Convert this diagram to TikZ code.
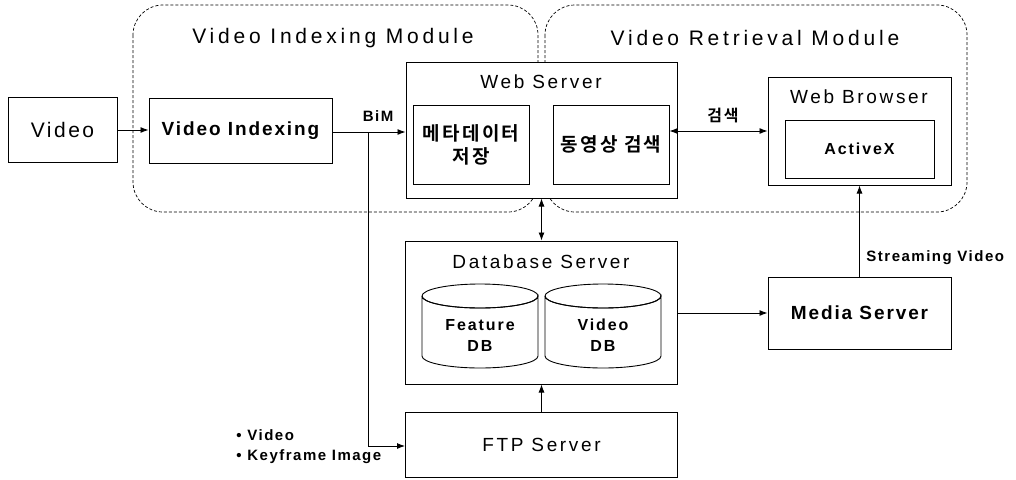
\documentclass[tikz,border=0pt]{standalone}
\usepackage{fontspec}
\setmainfont{Liberation Sans}
\newfontfamily\krfont{Noto Sans CJK KR}[BoldFont={* Bold}]
\usetikzlibrary{arrows.meta}

% font helpers (sizes in pt, picture unit is 1pt)
\newcommand{\ttl}{\fontsize{21}{25}\selectfont\addfontfeature{LetterSpace=18}}
\newcommand{\bxf}{\fontsize{19}{23}\selectfont\addfontfeature{LetterSpace=14}}
\newcommand{\bxv}{\fontsize{21}{25}\selectfont\addfontfeature{LetterSpace=12}}
\newcommand{\bxb}{\fontsize{19}{23}\selectfont\bfseries\addfontfeature{LetterSpace=10}}
\newcommand{\sml}{\fontsize{16}{21}\selectfont\bfseries\addfontfeature{LetterSpace=12}}
\newcommand{\lbl}{\fontsize{15}{20}\selectfont\bfseries\addfontfeature{LetterSpace=10}}
\newcommand{\kr}{\fontsize{19}{23}\selectfont\krfont\bfseries\addfontfeature{LetterSpace=12}}
\newcommand{\krs}{\fontsize{16}{20}\selectfont\krfont\bfseries\addfontfeature{LetterSpace=10}}

\begin{document}
\begin{tikzpicture}[x=1pt,y=-1pt,
  line width=0.9pt,
  box/.style={draw, line width=1pt, fill=white, inner sep=0pt},
  module/.style={draw, dashed, dash pattern=on 3pt off 2pt, line width=0.7pt, rounded corners=30pt},
  conn/.style={line width=0.9pt, -{Latex[length=8pt,width=6pt]}},
  conn2/.style={line width=0.9pt, {Latex[length=8pt,width=6pt]}-{Latex[length=8pt,width=6pt]}},
  txt/.style={inner sep=0pt, anchor=center}]

\useasboundingbox (0,0) rectangle (1016,479);

% dashed module regions
\draw[module] (133,5) rectangle (538,212);
\draw[module] (545,5) rectangle (967,212);
\node[txt, font=\ttl] (titleA) at (333,38) {Video Indexing Module};
\node[txt, font=\ttl] (titleB) at (755,38) {Video Retrieval Module};

% boxes
\node[box, minimum width=109pt, minimum height=65pt] (video) at (62.5,129.5) {};
\node[txt, font=\bxv] at (video) {Video};

\node[box, minimum width=183pt, minimum height=65pt] (vidx) at (240.5,130.5) {};
\node[txt, font=\bxb] at (vidx) {Video Indexing};

\node[box, minimum width=271pt, minimum height=136pt] (web) at (541.5,130) {};
\node[txt, font=\bxf] (webt) at (541,82) {Web Server};
\node[box, minimum width=116pt, minimum height=79pt] (meta) at (471,144.5) {};
\node[txt, font=\kr, align=center] at (meta) {메타데이터\\저장};
\node[box, minimum width=116pt, minimum height=79pt] (srch) at (611,144.5) {};
\node[txt, font=\kr] at (srch) {동영상 검색};

\node[box, minimum width=183pt, minimum height=108pt] (brw) at (859.5,131) {};
\node[txt, font=\bxf] (brwt) at (859,97) {Web Browser};
\node[box, minimum width=149pt, minimum height=58pt] (ax) at (859.5,149) {};
\node[txt, font=\sml] at (ax) {ActiveX};

\node[box, minimum width=272pt, minimum height=143pt] (db) at (541.5,312.5) {};
\node[txt, font=\bxf] (dbt) at (541,262) {Database Server};

\node[box, minimum width=183pt, minimum height=72pt] (media) at (859.5,313) {};
\node[txt, font=\bxb] at (media) {Media Server};

\node[box, minimum width=272pt, minimum height=65pt] (ftp) at (541.5,444.5) {};
\node[txt, font=\bxf] at (ftp) {FTP Server};

% database cylinders
\foreach \nm/\cx/\la/\lb in {fdb/480/Feature/DB, vdb/603/Video/DB}{
  \draw[line width=0.9pt, fill=white]
    (\cx-58,296) -- (\cx-58,356) arc[start angle=180, end angle=360, x radius=58pt, y radius=12pt]
    -- (\cx+58,296) arc[start angle=0, end angle=-180, x radius=58pt, y radius=12pt];
  \draw[line width=0.9pt] (\cx,296) ellipse[x radius=58pt, y radius=12pt];
  \node[txt, font=\sml, align=center] (\nm) at (\cx,335) {\la\\\lb};
}

% connectors
\coordinate (split) at (368,132);
\coordinate (down) at (368,446);
\draw[conn] (video.east |- 0,130) -- (vidx.west |- 0,130);
\draw[conn] (vidx.east |- 0,132) -- (web.west |- 0,132);
\node[txt, font=\lbl] (bim) at (378,116) {BiM};
\draw[conn] (split) -- (down) -- (ftp.west |- down);
\node[txt, font=\lbl, align=left, anchor=west] (items) at (236,447) {\textbullet\ Video\\\textbullet\ Keyframe Image};

\draw[conn2] (srch.east |- 0,131) -- (brw.west |- 0,131);
\node[txt, font=\krs] (kw) at (723,116) {검색};

\draw[conn2] (web.south) -- (db.north);
\draw[conn] (ftp.north) -- (db.south);
\draw[conn] (db.east |- 0,313) -- (media.west |- 0,313);
\draw[conn] (media.north) -- (brw.south);
\node[txt, font=\lbl, anchor=west] (sv) at (866,258) {Streaming Video};

\end{tikzpicture}
\end{document}
